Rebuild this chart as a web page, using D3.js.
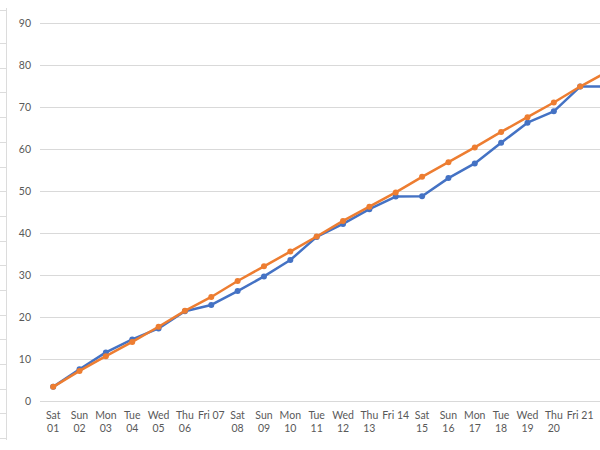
<!DOCTYPE html>
<html>
<head>
<meta charset="utf-8">
<script src="https://cdn.jsdelivr.net/npm/d3@7"></script>
<style>
  html, body { margin: 0; padding: 0; background: #fff; }
  svg { display: block; }
  text { font-family: Lato, "Open Sans", sans-serif; fill: #595959; }
</style>
</head>
<body>
<svg id="chart" width="600" height="450"></svg>
<script>
// Categories (day labels; line breaks shown with "\n")
const categories = ["Sat\n01","Sun\n02","Mon\n03","Tue\n04","Wed\n05","Thu\n06","Fri 07","Sat\n08","Sun\n09","Mon\n10","Tue\n11","Wed\n12","Thu\n13","Fri 14","Sat\n15","Sun\n16","Mon\n17","Tue\n18","Wed\n19","Thu\n20","Fri 21","Sat\n22"];
const blueValues   = [3.3, 7.5, 11.5, 14.6, 17.2, 21.3, 22.8, 26.1, 29.6, 33.5, 39.0, 42.1, 45.6, 48.6, 48.7, 53.0, 56.5, 61.4, 66.2, 68.9, 74.8, 74.8];
const orangeValues = [3.3, 7.1, 10.6, 14.0, 17.6, 21.4, 24.7, 28.5, 32.0, 35.5, 39.1, 42.8, 46.2, 49.6, 53.3, 56.8, 60.3, 64.0, 67.5, 71.0, 74.8, 78.2];
const yTicks = [0, 10, 20, 30, 40, 50, 60, 70, 80, 90];

const W = 600;
const svg = d3.select("#chart");

// Decorative sheet edge on the left
const edge = svg.append("g");
edge.append("line").attr("x1", 6.5).attr("x2", 6.5).attr("y1", 8).attr("y2", 440)
  .attr("stroke", "#dcdcdc").attr("stroke-width", 1);
const rowYs = [10.5];
for (let yy = 43; yy < 445; yy += 24.7) rowYs.push(Math.round(yy) + 0.5);
edge.selectAll("line.row").data(rowYs).enter().append("line")
  .attr("class", "row").attr("x1", 0).attr("x2", 6).attr("y1", d => d).attr("y2", d => d)
  .attr("stroke", "#dcdcdc").attr("stroke-width", 1);

const left = 40, bandW = 26.35;
const x = d3.scaleBand().domain(categories).range([left, left + bandW * categories.length]).paddingInner(0).paddingOuter(0);
const y = d3.scaleLinear().domain([0, 90]).range([400.7, 22.7]);
const cx = d => x(d) + x.bandwidth() / 2;

// Gridlines
svg.append("g").selectAll("line").data(yTicks).enter().append("line")
  .attr("x1", left).attr("x2", W)
  .attr("y1", d => Math.round(y(d)) + 0.5).attr("y2", d => Math.round(y(d)) + 0.5)
  .attr("stroke", "#d9d9d9").attr("stroke-width", 1);

// Y axis labels
const yAxis = d3.axisLeft(y).tickValues(yTicks).tickSize(0).tickPadding(0);
const yg = svg.append("g").attr("transform", "translate(31,0)").call(yAxis);
yg.select(".domain").remove();
yg.selectAll("text").style("font-size", "10.5px").attr("fill", "#595959").attr("dy", "0.35em").style("font-family", "Lato, sans-serif");

// X axis labels (the chart continues past the window's right edge; labels out of view are not drawn)
const xg = svg.append("g");
categories.filter(c => cx(c) + x.bandwidth() / 2 <= W + 2).forEach(c => {
  const lines = c.split("\n");
  const t = xg.append("text").attr("x", cx(c)).attr("y", 415).attr("text-anchor", "middle").style("font-size", "10.5px");
  lines.forEach((l, i) => t.append("tspan").attr("x", cx(c)).attr("dy", i === 0 ? "0.35em" : "13.5px").text(l));
});

// Series
const series = [
  { values: blueValues, color: "#4472C4" },
  { values: orangeValues, color: "#ED7D31" }
];
const line = d3.line().x((d, i) => cx(categories[i])).y(d => y(d));
series.forEach(s => {
  const g = svg.append("g");
  g.append("path").datum(s.values).attr("d", line).attr("fill", "none")
    .attr("stroke", s.color).attr("stroke-width", 2.5).attr("stroke-linejoin", "round");
  g.selectAll("circle").data(s.values).enter().append("circle")
    .attr("cx", (d, i) => cx(categories[i])).attr("cy", d => y(d)).attr("r", 3)
    .attr("fill", s.color);
});
</script>
</body>
</html>
